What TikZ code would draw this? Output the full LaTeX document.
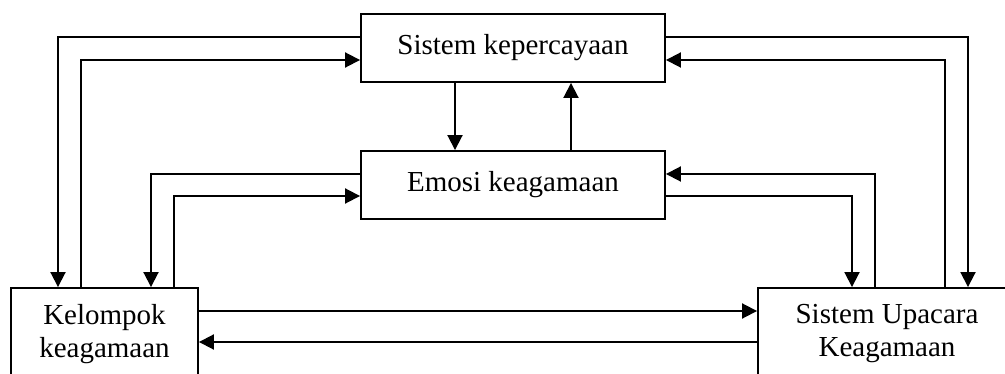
\documentclass[tikz,border=0pt]{standalone}
\usepackage{fontspec}
\setmainfont{Liberation Serif}
\usetikzlibrary{arrows.meta}
\begin{document}
\begin{tikzpicture}[x=1pt,y=-1pt,
  box/.style={draw,line width=1.9pt,inner sep=0pt,align=center,font=\fontsize{29}{33}\selectfont},
  arr/.style={line width=1.9pt,-{Triangle[length=15pt,width=15pt]}},
  ln/.style={line width=1.9pt}]
\useasboundingbox (0,0) rectangle (1005,374);
\clip (0,0) rectangle (1005,374);
\node[box,minimum width=304pt,minimum height=68pt] (top) at (513,48) {Sistem kepercayaan};
\node[box,minimum width=304pt,minimum height=68pt] (emo) at (513,185) {Emosi keagamaan};
\node[box,minimum width=187pt,minimum height=92pt] (kel) at (104.5,334) {Kelompok\\keagamaan};
\node[box,minimum width=258pt,minimum height=92pt] (up) at (887,334) {Sistem Upacara\\Keagamaan};
\coordinate (a1) at (58,37);
\coordinate (a2) at (81,60);
\coordinate (a3) at (151,174);
\coordinate (a4) at (174,196);
\coordinate (b1) at (968,37);
\coordinate (b2) at (945,60);
\coordinate (b3) at (875,174);
\coordinate (b4) at (852,196);
\coordinate (h1) at (500,311);
\coordinate (h2) at (500,342);
\coordinate (v1) at (455,100);
\coordinate (v2) at (571,100);
% left side
\draw[arr] (top.west |- a1) -| (kel.north -| a1);
\draw[arr] (kel.north -| a2) |- (top.west |- a2);
\draw[arr] (emo.west |- a3) -| (kel.north -| a3);
\draw[arr] (kel.north -| a4) |- (emo.west |- a4);
% right side
\draw[arr] (top.east |- b1) -| (up.north -| b1);
\draw[arr] (up.north -| b2) |- (top.east |- b2);
\draw[arr] (up.north -| b3) |- (emo.east |- b3);
\draw[arr] (emo.east |- b4) -| (up.north -| b4);
% bottom
\draw[arr] (kel.east |- h1) -- (up.west |- h1);
\draw[arr] (up.west |- h2) -- (kel.east |- h2);
% middle
\draw[arr] (top.south -| v1) -- (emo.north -| v1);
\draw[arr] (emo.north -| v2) -- (top.south -| v2);
\end{tikzpicture}
\end{document}
